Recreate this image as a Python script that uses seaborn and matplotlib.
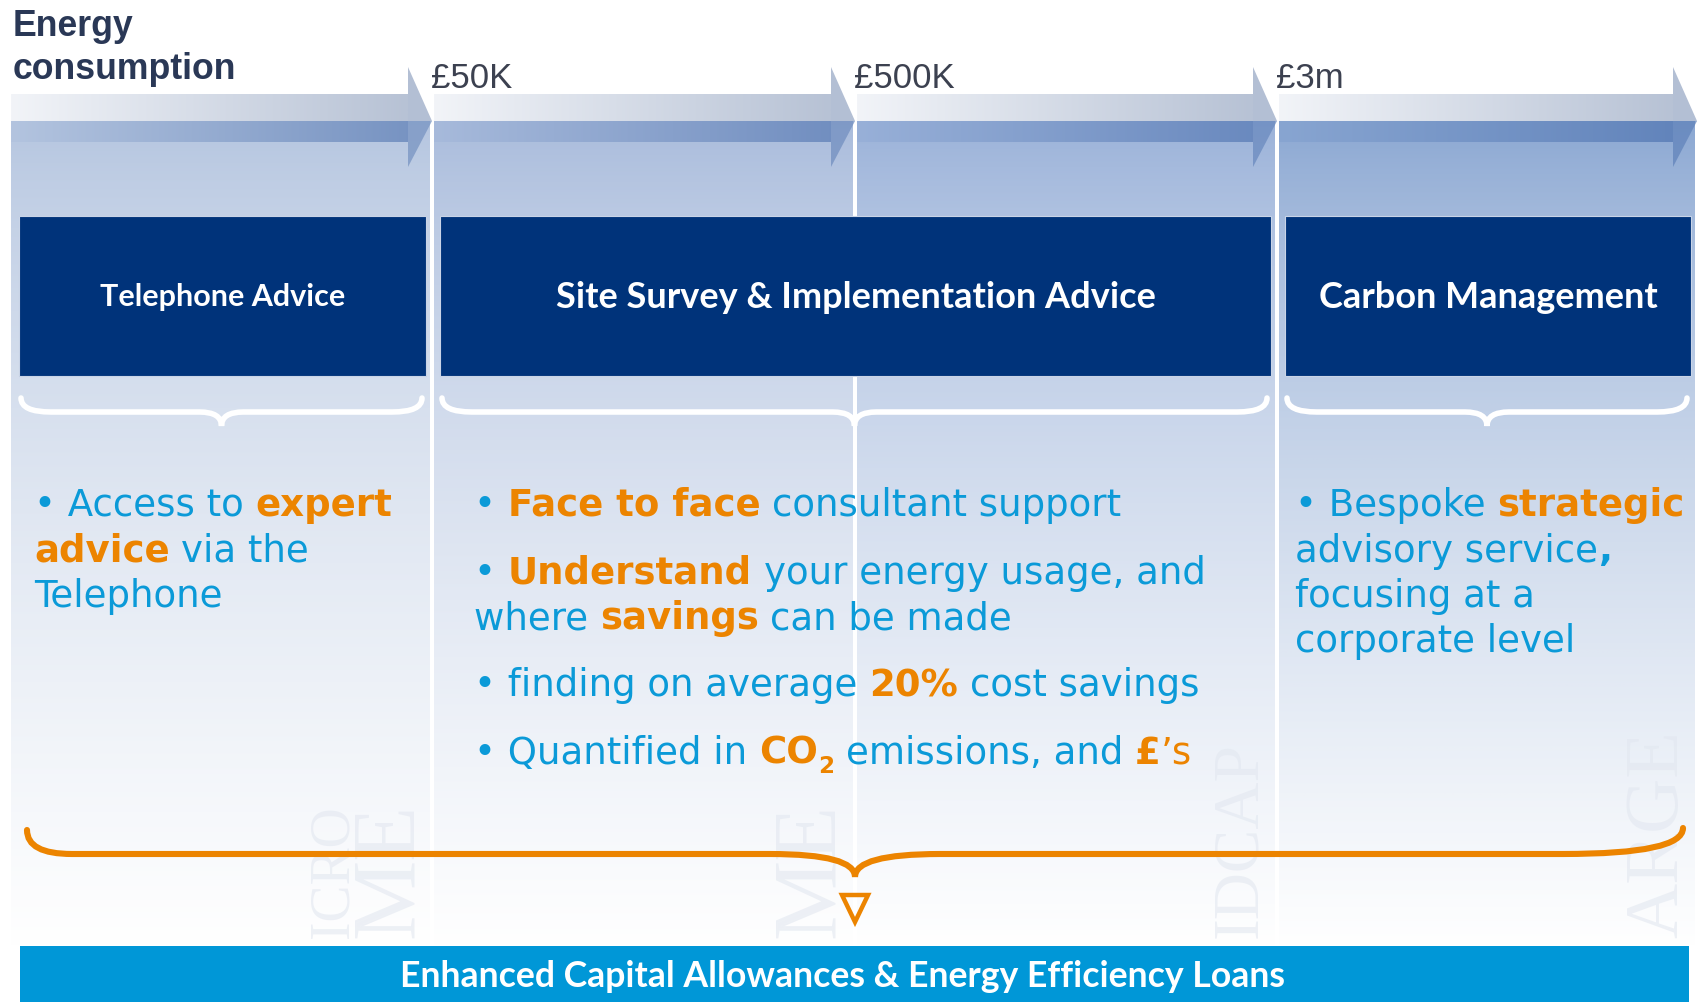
import numpy as np
import matplotlib.pyplot as plt
import seaborn as sns
from matplotlib.path import Path
from matplotlib.patches import PathPatch, Rectangle, Polygon

sns.set_theme(style='white')

# ---- content ----
col_edges = [11, 432, 855, 1277, 1697]
col_colours = ['#b3c4df', '#a7badb', '#98b0d8', '#88a5d1']
thresholds = ['£50K', '£500K', '£3m']
axis_title = ['Energy', 'consumption']

services = ['Telephone Advice', 'Site Survey & Implementation Advice', 'Carbon Management']
service_span = [(0, 1), (1, 3), (3, 4)]
service_size = [22, 26, 26]

# faint size-band words, only their visible part shows above the banner
watermarks = ['ICRO', 'ME', 'ME', 'IDCAP', 'ARGE']

tel_text = [
    [[('• Access to ', 'n'), ('expert', 'b')],
     [('advice', 'b'), (' via the', 'n')],
     [('Telephone', 'n')]],
]
site_text = [
    [[('• ', 'n'), ('Face to face', 'b'), (' consultant support', 'n')]],
    [[('• ', 'n'), ('Understand', 'b'), (' your energy usage, and', 'n')],
     [('where ', 'n'), ('savings', 'b'), (' can be made', 'n')]],
    [[('• finding on average ', 'n'), ('20%', 'b'), (' cost savings', 'n')]],
    [[('• Quantified in ', 'n'), ('CO', 'b'), ('2', 'sub'), (' emissions, and ', 'n'),
      ('£', 'b'), ('’s', 'o')]],
]
carbon_text = [
    [[('• Bespoke ', 'n'), ('strategic', 'b')],
     [('advisory service', 'n'), (',', 'nb')],
     [('focusing at a', 'n')],
     [('corporate level', 'n')]],
]
bullet_blocks = [tel_text, site_text, carbon_text]

banner_text = 'Enhanced Capital Allowances & Energy Efficiency Loans'

NAVY = '#00337a'
BLUE = '#0b9ad8'
ORANGE = '#ec8400'
BANNER = '#0097d7'

W, H = 1703, 1003
fig = plt.figure(figsize=(W / 100, H / 100), dpi=100)
ax = fig.add_axes([0, 0, 1, 1])
ax.set_xlim(0, W)
ax.set_ylim(H, 0)
ax.set_autoscale_on(False)
ax.axis('off')
renderer = fig.canvas.get_renderer()


def vgrad(x0, x1, y0, y1, c0, c1, gamma=1.0, z=1):
    pal = np.array(sns.blend_palette([c0, c1], 256))
    idx = (np.linspace(0, 1, 300) ** gamma * 255).astype(int)
    ax.imshow(pal[idx][:, None, :], extent=(x0, x1, y1, y0), aspect='auto',
              zorder=z, interpolation='bilinear')


def hgrad(x0, x1, y0, y1, c0, c1, z=3):
    pal = np.array(sns.blend_palette([c0, c1], 256))
    ax.imshow(pal[None, :, :], extent=(x0, x1, y1, y0), aspect='auto',
              zorder=z, interpolation='bilinear')


# columns + arrows
for i, c in enumerate(col_colours):
    x0 = col_edges[i] + (0 if i == 0 else 2)
    x1 = col_edges[i + 1] - 2
    vgrad(x0, x1, 122, 947, c, '#ffffff', gamma=0.7, z=1)
    hb = col_edges[i + 1] - 24
    dark = sns.blend_palette([c, '#3d64a6'], 5)[2]
    hgrad(x0, hb, 95, 122, '#f2f4f8', '#b7c2d5')
    hgrad(x0, hb, 122, 143, c, dark)
    ax.add_patch(Polygon([(hb, 68), (col_edges[i + 1], 122), (hb, 122)],
                         closed=True, fc='#b3bfd4', ec='none', zorder=3))
    ax.add_patch(Polygon([(hb, 122), (col_edges[i + 1], 122), (hb, 168)],
                         closed=True, fc=dark, ec='none', alpha=0.75, zorder=3))

# faint watermarks
wm_x = [334, 391, 812, 1240, 1659]
wm_size = [40, 65, 65, 47, 55]
for s, x, fs in zip(watermarks, wm_x, wm_size):
    ax.text(x, 938, s, rotation=90, ha='center', va='bottom', fontsize=fs,
            family='Liberation Serif', color='#e2e7f0', alpha=0.6, zorder=2)

# header labels
ax.text(13, 36, axis_title[0], fontsize=25.7, fontweight='bold', family='Liberation Sans',
        color='#2a3856', va='baseline')
ax.text(13, 79, axis_title[1], fontsize=25.7, fontweight='bold', family='Liberation Sans',
        color='#2a3856', va='baseline')
for i, lab in enumerate(thresholds):
    ax.text(col_edges[i + 1] - 1, 88, lab, fontsize=25, family='Liberation Sans',
            color='#3c4150', va='baseline')

# service boxes
for name, (a, b), fs in zip(services, service_span, service_size):
    x0 = col_edges[a] + 8
    x1 = col_edges[b] - 6
    ax.add_patch(Rectangle((x0, 217), x1 - x0, 160, fc=NAVY, ec='#c9d4e7', lw=0.8, zorder=4))
    ax.text((x0 + x1) / 2, 297, name, ha='center', va='center', color='white',
            fontsize=fs, fontweight='bold', family='Lato', zorder=5)


def brace(x0, x1, yt0, yt1, yl, yc, r0, r1, rc, color, lw):
    xc = (x0 + x1) / 2
    verts = [(x0, yt0), (x0, yl), (x0 + r0, yl), (xc - rc, yl), (xc, yl), (xc, yc),
             (xc, yl), (xc + rc, yl), (x1 - r1, yl), (x1, yl), (x1, yt1)]
    codes = [Path.MOVETO, Path.CURVE3, Path.CURVE3, Path.LINETO, Path.CURVE3, Path.CURVE3,
             Path.CURVE3, Path.CURVE3, Path.LINETO, Path.CURVE3, Path.CURVE3]
    ax.add_patch(PathPatch(Path(verts, codes), fc='none', ec=color, lw=lw,
                           capstyle='round', zorder=5))


for (a, b) in service_span:
    brace(col_edges[a] + 10, col_edges[b] - 10, 399, 399, 413, 427, 30, 30, 22, 'white', 4)

brace(27, 1683, 831, 829, 855, 878, 45, 120, 85, ORANGE, 4.4)
ax.add_patch(Polygon([(842, 896), (868, 896), (855, 923)], closed=True, fc='none',
                     ec=ORANGE, lw=3.2, joinstyle='miter', zorder=5))

# bullet text
FS = 26.7
styles = {
    'n': dict(color=BLUE, fontsize=FS, family='DejaVu Sans'),
    'b': dict(color=ORANGE, fontsize=FS, family='DejaVu Sans', fontweight='bold'),
    'o': dict(color=ORANGE, fontsize=FS, family='DejaVu Sans'),
    'nb': dict(color=BLUE, fontsize=FS, family='DejaVu Sans', fontweight='bold'),
    'sub': dict(color=ORANGE, fontsize=FS * 0.62, family='DejaVu Sans', fontweight='bold'),
}


def width(s, kw):
    t = ax.text(0, 0, s, **kw)
    w = t.get_window_extent(renderer).width
    t.remove()
    return w


def adv(s, kw):
    return width('|' + s + '|', kw) - width('||', kw)


def draw_line(x, y, segs):
    for s, st in segs:
        kw = styles[st]
        core = s.lstrip(' ')
        x += (len(s) - len(core)) * adv(' ', kw)
        dy = 9 if st == 'sub' else 0
        ax.text(x, y + dy, core, va='baseline', ha='left', zorder=6, **kw)
        x += adv(core, kw)


text_x = [34, 474, 1295]
for x, block in zip(text_x, bullet_blocks):
    y = 516
    for k, bullet in enumerate(block):
        if k > 0:
            y += 67.5
        for j, line in enumerate(bullet):
            if j > 0:
                y += 45.5
            draw_line(x, y, line)

# banner
ax.add_patch(Rectangle((20, 947), 1669, 60, fc=BANNER, ec='none', zorder=7))
ax.text(843, 977, banner_text, ha='center', va='center', color='white', fontsize=25.7,
        fontweight='bold', family='Lato', zorder=8)

fig.savefig('out.png', dpi=100, facecolor='white')
